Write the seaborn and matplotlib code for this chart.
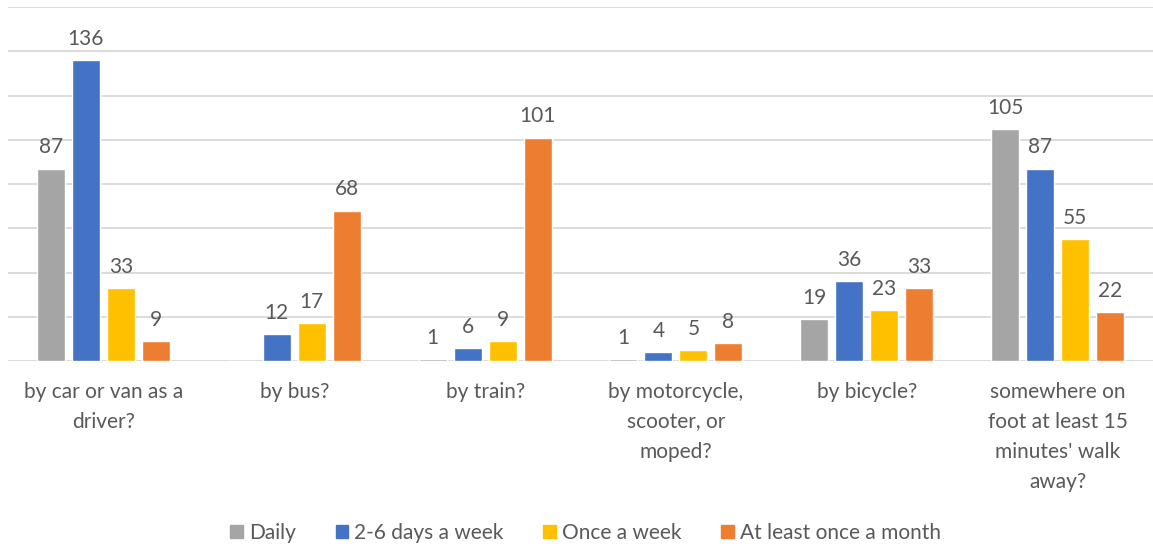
import matplotlib
matplotlib.use("Agg")
import matplotlib.pyplot as plt
import seaborn as sns
import pandas as pd

categories = [
    "by car or van as a\ndriver?",
    "by bus?",
    "by train?",
    "by motorcycle,\nscooter, or\nmoped?",
    "by bicycle?",
    "somewhere on\nfoot at least 15\nminutes' walk\naway?",
]
series = ["Daily", "2-6 days a week", "Once a week", "At least once a month"]
daily = [87, 0, 1, 1, 19, 105]
days_2_6 = [136, 12, 6, 4, 36, 87]
once_week = [33, 17, 9, 5, 23, 55]
once_month = [9, 68, 101, 8, 33, 22]
colors = ["#A5A5A5", "#4472C4", "#FFC000", "#ED7D31"]

rows = []
for name, vals in zip(series, [daily, days_2_6, once_week, once_month]):
    for cat, v in zip(categories, vals):
        rows.append({"category": cat, "frequency": name, "count": v})
df = pd.DataFrame(rows)

sns.set_theme(style="white")
plt.rcParams["font.family"] = ["Lato", "DejaVu Sans"]
text_color = "#595959"

fig = plt.figure(figsize=(11.53, 5.5), dpi=100)
ax = fig.add_axes([8 / 1153, 1 - 361 / 550, 1 - 8 / 1153, (361 - 7) / 550])

sns.barplot(
    data=df, x="category", y="count", hue="frequency",
    order=categories, hue_order=series, palette=colors,
    width=0.733, gap=0.2, saturation=1, ax=ax, legend=False,
)

ax.set_ylim(0, 160)
ax.set_yticks(range(0, 161, 20))
ax.yaxis.grid(True, color="#D9D9D9", linewidth=1.3)
ax.set_axisbelow(True)
ax.set_yticklabels([])
ax.tick_params(axis="y", length=0)
ax.tick_params(axis="x", length=0, pad=15, labelsize=15, labelcolor=text_color)
for lbl in ax.get_xticklabels():
    lbl.set_linespacing(1.62)
ax.set_xlabel("")
ax.set_ylabel("")
for s in ax.spines.values():
    s.set_visible(False)

for cont in ax.containers:
    labels = [f"{b.get_height():.0f}" if b.get_height() > 0 else "" for b in cont]
    ax.bar_label(cont, labels=labels, padding=8, fontsize=15, color=text_color)

handles = [plt.Rectangle((0, 0), 1, 1, color=c) for c in colors]
fig.legend(
    handles, series, loc="center", bbox_to_anchor=(0.508, 1 - 533 / 550),
    ncol=4, frameon=False, fontsize=15, labelcolor=text_color,
    handlelength=0.6, handleheight=0.6, handletextpad=0.3, columnspacing=1.9,
)

fig.savefig("out.png", dpi=100)
